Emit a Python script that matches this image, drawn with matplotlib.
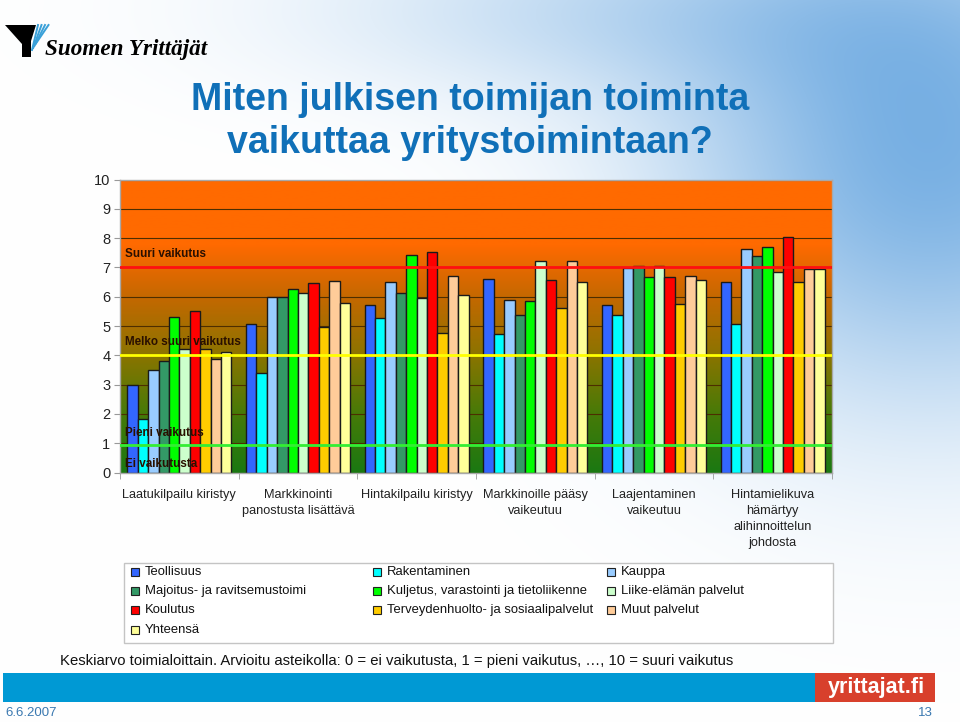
import numpy as np
import matplotlib
matplotlib.use("Agg")
import matplotlib.pyplot as plt
from matplotlib import font_manager
from matplotlib.colors import LinearSegmentedColormap
from matplotlib.patches import Rectangle, Polygon

plt.rcParams["font.family"] = ["Liberation Sans", "DejaVu Sans"]

W, H = 960, 722

categories = [
    "Laatukilpailu kiristyy",
    "Markkinointi\npanostusta lisättävä",
    "Hintakilpailu kiristyy",
    "Markkinoille pääsy\nvaikeutuu",
    "Laajentaminen\nvaikeutuu",
    "Hintamielikuva\nhämärtyy\nalihinnoittelun\njohdosta",
]

series_names = [
    "Teollisuus", "Rakentaminen", "Kauppa",
    "Majoitus- ja ravitsemustoimi", "Kuljetus, varastointi ja tietoliikenne", "Liike-elämän palvelut",
    "Koulutus", "Terveydenhuolto- ja sosiaalipalvelut", "Muut palvelut",
    "Yhteensä",
]
series_colors = ["#3366FF", "#00FFFF", "#99CCFF", "#339966", "#00FF00",
                 "#CCFFCC", "#FF0000", "#FFCC00", "#FFCC99", "#FFFF99"]

# one row per series, one value per category
teollisuus = [3.00, 5.08, 5.72, 6.61, 5.72, 6.49]
rakentaminen = [1.82, 3.41, 5.26, 4.73, 5.37, 5.07]
kauppa = [3.49, 5.99, 6.49, 5.89, 6.98, 7.63]
majoitus = [3.81, 5.99, 6.14, 5.37, 7.06, 7.38]
kuljetus = [5.30, 6.26, 7.41, 5.86, 6.68, 7.70]
liike = [4.23, 6.14, 5.97, 7.21, 7.06, 6.85]
koulutus = [5.50, 6.46, 7.53, 6.57, 6.68, 8.05]
terveys = [4.23, 4.95, 4.75, 5.62, 5.75, 6.49]
muut = [3.86, 6.54, 6.70, 7.21, 6.71, 6.95]
yhteensa = [4.12, 5.79, 6.07, 6.49, 6.57, 6.93]
values = [teollisuus, rakentaminen, kauppa, majoitus, kuljetus,
          liike, koulutus, terveys, muut, yhteensa]

# scale reference lines
ref_levels = [7.0, 4.0, 0.93]
ref_colors = ["#FF1010", "#FFFF00", "#33EE33"]
scale_labels = ["Suuri vaikutus", "Melko suuri vaikutus", "Pieni vaikutus", "Ei vaikutusta"]
scale_label_y = [7.45, 4.45, 1.35, 0.3]

title_lines = ["Miten julkisen toimijan toiminta", "vaikuttaa yritystoimintaan?"]


def fx(x):
    return x / W


def fy(y):
    return 1 - y / H


# the slide title uses a condensed face, fall back to the regular one
installed = {f.name for f in font_manager.fontManager.ttflist}
if "Liberation Sans Narrow" in installed:
    title_family, title_size = "Liberation Sans Narrow", 33
else:
    title_family, title_size = "Liberation Sans", 27

fig = plt.figure(figsize=(9.6, 7.22), dpi=100)

# light blue sky background of the slide
bg = fig.add_axes([0, 0, 1, 1], zorder=-10)
yy, xx = np.mgrid[0:H, 0:W]
w = 0.9 * np.exp(-((xx - 930) / 260.0) ** 2 - ((yy - 150) / 250.0) ** 2)
w += 0.35 * np.exp(-((xx - 620) / 320.0) ** 2 - ((yy - 10) / 90.0) ** 2)
w = np.clip(w, 0, 0.92)[..., None]
blue = np.array([0.42, 0.66, 0.88])
img = (1 - w) * np.ones(3) + w * blue
bg.imshow(img, extent=[0, W, H, 0], aspect="auto")
bg.set_xlim(0, W)
bg.set_ylim(H, 0)
bg.axis("off")

ax = fig.add_axes([fx(120), fy(472.5), 712 / W, (472.5 - 179.5) / H])

cmap = LinearSegmentedColormap.from_list("bgr", [
    (0.0, "#1a7812"), (0.2, "#467a08"), (0.4, "#8a7400"),
    (0.6, "#c46800"), (0.78, "#ff6a00"), (1.0, "#ff6a00")])
grad = np.linspace(0, 1, 256)[:, None]
ax.imshow(grad, extent=[-0.5, 5.5, 0, 10], origin="lower", aspect="auto",
          cmap=cmap, zorder=0)

n = len(values)
bw = 0.0877
x = np.arange(len(categories))
for i, (vals, col) in enumerate(zip(values, series_colors)):
    ax.bar(x + (i - (n - 1) / 2) * bw, vals, width=bw, color=col,
           edgecolor="#1a1a1a", linewidth=1, zorder=2, label=series_names[i])

for lvl, col in zip(ref_levels, ref_colors):
    ax.axhline(lvl, color=col, linewidth=2, zorder=3)
for lab, ly in zip(scale_labels, scale_label_y):
    ax.text(-0.46, ly, lab, fontsize=8.4, fontweight="bold", color="#2a1000",
            zorder=4, va="center", ha="left")

ax.set_xlim(-0.5, 5.5)
ax.set_ylim(0, 10)
ax.set_yticks(range(0, 11))
ax.yaxis.grid(True, color=(0.3, 0.18, 0.0, 0.15), linewidth=0.8)
ax.tick_params(axis="y", labelsize=10.5, labelcolor="#222222", length=4,
               width=0.8, pad=3, color="#999999")
ax.set_xticks(x)
ax.set_xticklabels(categories, fontsize=9.2, color="#222222", linespacing=1.45)
ax.tick_params(axis="x", length=0, pad=12)
ax.set_xticks(np.arange(-0.5, 6.0, 1.0), minor=True)
ax.tick_params(axis="x", which="minor", length=4, color="#999999")
for s in ax.spines.values():
    s.set_color("#a8a8a8")
    s.set_linewidth(1)
for gl in ax.yaxis.get_gridlines():
    gl.set_zorder(1)

# legend box drawn by hand to keep the three Excel columns
fig.patches.append(Rectangle((fx(124), fy(643)), (833 - 124) / W, (643 - 563) / H,
                             transform=fig.transFigure, facecolor="white",
                             edgecolor="#c4c4c4", linewidth=1))
col_x = [131, 373, 607]
row_y = [572, 591, 610, 630]
handles, labels = ax.get_legend_handles_labels()
for i, lab in enumerate(labels):
    cx = col_x[i % 3]
    ry = row_y[i // 3]
    fig.patches.append(Rectangle((fx(cx), fy(ry + 4)), 8 / W, 8 / H,
                                 transform=fig.transFigure,
                                 facecolor=series_colors[i],
                                 edgecolor="#222222", linewidth=0.8))
    fig.text(fx(cx + 14), fy(ry), lab, fontsize=9.4, color="#111111",
             va="center", ha="left")

# title
for line, ty in zip(title_lines, [100, 143]):
    fig.text(fx(470), fy(ty), line, fontsize=title_size, fontweight="bold",
             family=[title_family, "DejaVu Sans"], color="#1070b8",
             ha="center", va="center")

# organisation logo
fig.patches.append(Polygon([(fx(5), fy(25)), (fx(36), fy(25)), (fx(31), fy(41)),
                            (fx(31), fy(57)), (fx(22), fy(57)), (fx(22), fy(44))],
                           closed=True, transform=fig.transFigure,
                           facecolor="black", edgecolor="none"))
for k in range(4):
    fig.lines.append(plt.Line2D([fx(38 + 3.5 * k), fx(32 + 1.2 * k)],
                                [fy(25), fy(50 - 2 * k)],
                                transform=fig.transFigure, color="#3aa0d8",
                                linewidth=1.4))
fig.text(fx(45), fy(50), "Suomen Yrittäjät", fontsize=16.7, fontweight="bold",
         style="italic", family=["Liberation Serif", "DejaVu Serif"],
         color="black", ha="left", va="center")

fig.text(fx(60), fy(661), "Keskiarvo toimialoittain. Arvioitu asteikolla: 0 = ei vaikutusta, "
         "1 = pieni vaikutus, \u2026, 10 = suuri vaikutus",
         fontsize=10.7, color="#111111", ha="left", va="center")

# footer band
fig.patches.append(Rectangle((fx(3), fy(702)), (815 - 3) / W, 29 / H,
                             transform=fig.transFigure, facecolor="#0099d4",
                             edgecolor="none"))
fig.patches.append(Rectangle((fx(815), fy(702)), 120 / W, 29 / H,
                             transform=fig.transFigure, facecolor="#d8402c",
                             edgecolor="none"))
fig.text(fx(876), fy(688), "yrittajat.fi", fontsize=15.5, fontweight="bold",
         family=[title_family, "DejaVu Sans"], color="white",
         ha="center", va="center")
fig.text(fx(5), fy(713), "6.6.2007", fontsize=9.5, color="#3a78b0",
         ha="left", va="center")
fig.text(fx(933), fy(713), "13", fontsize=9.5, color="#3a78b0",
         ha="right", va="center")

fig.savefig("out.png", dpi=100)
